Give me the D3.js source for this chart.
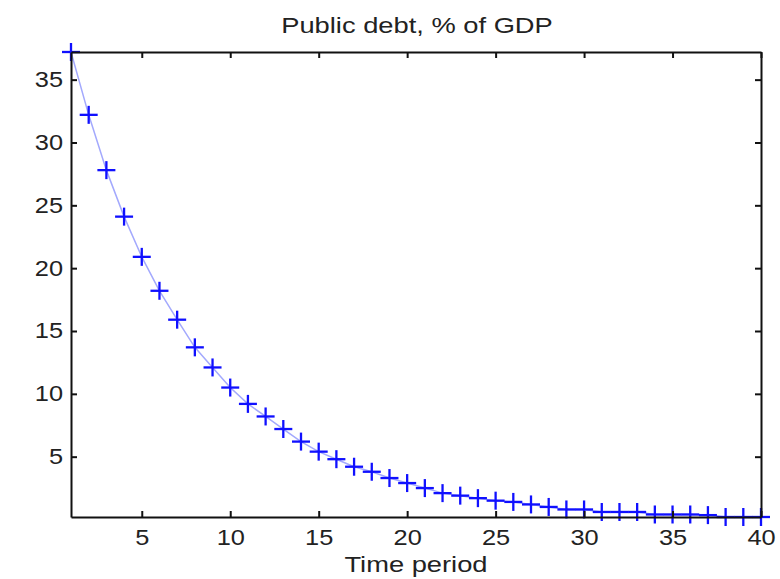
<!DOCTYPE html>
<html>
<head>
<meta charset="utf-8">
<script src="https://cdn.jsdelivr.net/npm/d3@7"></script>
<style>
  body { margin: 0; background: #fff; }
  text { font-family: "Liberation Sans", Arial, sans-serif; fill: #222; }
</style>
</head>
<body>
<div id="chart"></div>
<script>
// data
const periods = d3.range(1, 41);
const debt = [37.2, 32.2, 27.8, 24.1, 20.9, 18.2, 15.9, 13.7, 12.1, 10.5,
              9.2, 8.2, 7.2, 6.2, 5.4, 4.8, 4.2, 3.8, 3.3, 2.9,
              2.5, 2.1, 1.9, 1.7, 1.5, 1.4, 1.2, 1.0, 0.8, 0.8,
              0.6, 0.6, 0.6, 0.4, 0.4, 0.4, 0.35, 0.2, 0.2, 0.2];
const xTicks = [5, 10, 15, 20, 25, 30, 35, 40];
const yTicks = [5, 10, 15, 20, 25, 30, 35];
const data = periods.map((t, i) => ({t: t, v: debt[i]}));

const margin = {top: 52, right: 19, bottom: 62, left: 71},
    width = 780 - margin.left - margin.right,
    height = 579 - margin.top - margin.bottom;

// the original text is a bit wider than Liberation Sans
const fontSize = 21.5, tickStretch = 1.18, labelStretch = 1.27;

const svg = d3.select("#chart")
  .append("svg")
    .attr("width", 780)
    .attr("height", 579)
  .append("g")
    .attr("transform", `translate(${margin.left},${margin.top})`);

const x = d3.scaleLinear()
  .domain(d3.extent(periods))
  .range([0, width]);
const y = d3.scaleLinear()
  .domain(d3.extent(debt))
  .range([height, 0]);

// line
svg.append("path")
  .datum(data)
  .attr("fill", "none")
  .attr("stroke", "#a3a9fd")
  .attr("stroke-width", 1.5)
  .attr("d", d3.line().x(d => x(d.t)).y(d => y(d.v)));

// plus markers
const m = 9;
const marks = svg.append("g")
  .attr("stroke", "#1010ff")
  .attr("stroke-width", 2.3)
  .selectAll("g")
  .data(data)
  .join("g")
  .attr("transform", d => `translate(${x(d.t)},${y(d.v)})`);
marks.append("line").attr("x1", -m).attr("x2", m);
marks.append("line").attr("y1", -m).attr("y2", m);

// axes box with inward ticks
const fmt = d3.format("d");
const xAxis = svg.append("g")
  .attr("transform", `translate(0,${height})`)
  .call(d3.axisBottom(x).tickValues(xTicks).tickSizeInner(-6).tickSizeOuter(0).tickPadding(13).tickFormat(fmt));
svg.append("g")
  .call(d3.axisTop(x).tickValues(xTicks).tickSizeInner(-6).tickSizeOuter(0).tickFormat(""));
const yAxis = svg.append("g")
  .call(d3.axisLeft(y).tickValues(yTicks).tickSizeInner(-6).tickSizeOuter(0).tickFormat(fmt));
svg.append("g")
  .attr("transform", `translate(${width},0)`)
  .call(d3.axisRight(y).tickValues(yTicks).tickSizeInner(-6).tickSizeOuter(0).tickFormat(""));

svg.selectAll(".domain, .tick line")
  .attr("stroke", "#111")
  .attr("stroke-width", 2);
svg.selectAll(".tick text")
  .attr("font-size", fontSize)
  .attr("fill", "#222")
  .attr("transform", `scale(${tickStretch},1)`);
yAxis.selectAll(".tick text").attr("x", -8 / tickStretch);

// title and x label
svg.append("g")
  .attr("transform", `translate(${width / 2 + 1},-19)`)
  .append("text")
  .attr("text-anchor", "middle")
  .attr("font-size", fontSize)
  .attr("transform", `scale(${labelStretch},1)`)
  .text("Public debt, % of GDP");

svg.append("g")
  .attr("transform", `translate(${width / 2},${height + 54.5})`)
  .append("text")
  .attr("text-anchor", "middle")
  .attr("font-size", fontSize)
  .attr("transform", `scale(${labelStretch},1)`)
  .text("Time period");
</script>
</body>
</html>
